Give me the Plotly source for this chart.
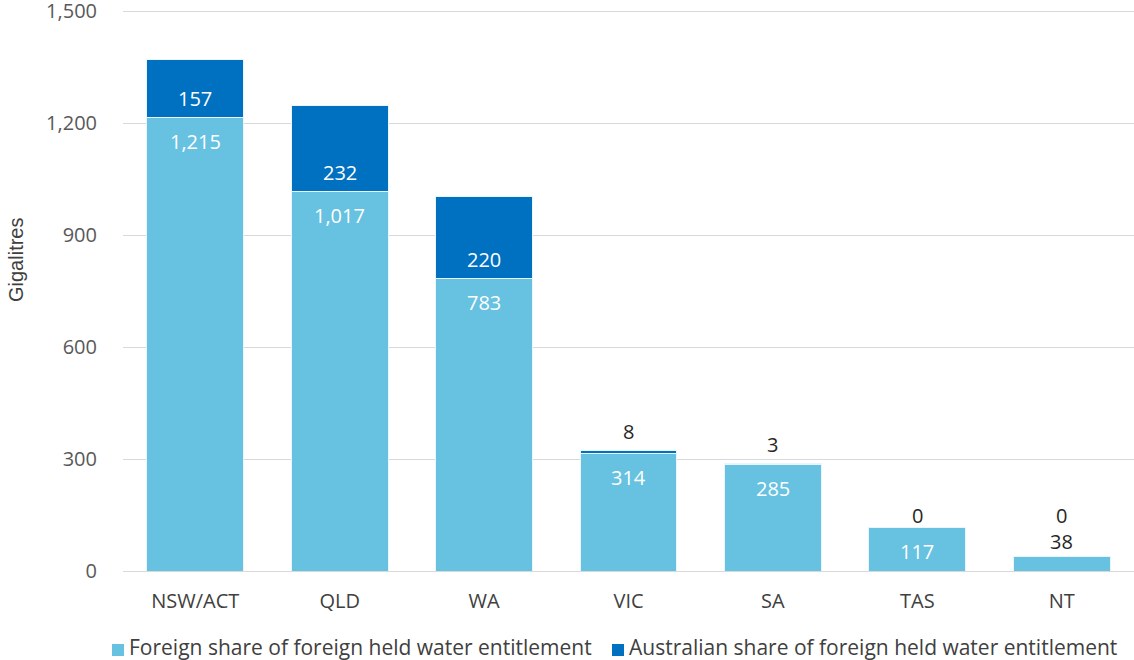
import plotly.graph_objects as go

categories = ["NSW/ACT", "QLD", "WA", "VIC", "SA", "TAS", "NT"]
foreign_share = [1215, 1017, 783, 314, 285, 117, 38]
australian_share = [157, 232, 220, 8, 3, 0, 0]
y_ticks = [0, 300, 600, 900, 1200, 1500]
series_names = ["Foreign share of foreign held water entitlement",
                "Australian share of foreign held water entitlement"]
y_title = "Gigalitres"

LIGHT = "#66C2E0"
DARK = "#0070C0"
FONT = "Open Sans"

W, H = 1134, 660
ML, MR, MT, MB = 123, 0, 10, 89
PW, PH = W - ML - MR, H - MT - MB


def px_x(p):
    return (p - ML) / PW


def px_y(p):
    return (H - MB - p) / PH


fig = go.Figure()
fig.add_trace(go.Bar(
    x=categories, y=foreign_share, name=series_names[0],
    marker=dict(color=LIGHT, line=dict(color="#E8F6FB", width=1)),
    hoverinfo="x+y"))
fig.add_trace(go.Bar(
    x=categories, y=australian_share, name=series_names[1],
    marker=dict(color=DARK, line=dict(color="#E8F6FB", width=1)),
    hoverinfo="x+y"))

annotations = []
for c, f, a in zip(categories, foreign_share, australian_share):
    total = f + a
    if f >= 100:
        annotations.append(dict(x=c, y=f, text=f"{f:,}", showarrow=False, yshift=-24,
                                font=dict(color="white", size=20, family=FONT)))
        above = 0
    else:
        annotations.append(dict(x=c, y=total, text=f"{f:,}", showarrow=False, yshift=15,
                                font=dict(color="#262626", size=20, family=FONT)))
        above = 26
    if a >= 100:
        annotations.append(dict(x=c, y=f, text=f"{a:,}", showarrow=False, yshift=19,
                                font=dict(color="white", size=20, family=FONT)))
    else:
        if above:
            shift = 15 + above
        elif a == 0:
            shift = 12
        else:
            shift = 19
        annotations.append(dict(x=c, y=total, text=f"{a:,}", showarrow=False, yshift=shift,
                                font=dict(color="#262626", size=20, family=FONT)))

# y-axis title
annotations.append(dict(xref="paper", yref="paper", x=px_x(16), y=px_y(260),
                        xanchor="center", yanchor="middle", showarrow=False, textangle=-90,
                        text=y_title, font=dict(family="Liberation Sans", size=20, color="#404040")))

# manual legend (square swatches + labels) placed below the axis
shapes = []
legend_items = [(series_names[0], LIGHT, 112), (series_names[1], DARK, 612)]
for name, col, left in legend_items:
    shapes.append(dict(type="rect", xref="paper", yref="paper",
                       x0=px_x(left), x1=px_x(left + 12), y0=px_y(656), y1=px_y(644),
                       fillcolor=col, line=dict(width=0)))
    annotations.append(dict(xref="paper", yref="paper", x=px_x(left + 15), y=px_y(647),
                            xanchor="left", yanchor="middle", showarrow=False, text=name,
                            font=dict(size=21, color="#404040", family=FONT)))

fig.update_layout(
    barmode="stack",
    bargap=0.33,
    width=W, height=H,
    margin=dict(l=ML, r=MR, t=MT, b=MB, autoexpand=False),
    plot_bgcolor="white", paper_bgcolor="white",
    font=dict(family=FONT, size=19, color="#595959"),
    annotations=annotations,
    shapes=shapes,
    showlegend=False,
    xaxis=dict(showline=False, ticks="outside", ticklen=12, tickcolor="rgba(0,0,0,0)",
               automargin=False,
               tickfont=dict(size=20, color="#404040", family=FONT)),
    yaxis=dict(range=[0, 1504], tickvals=y_ticks,
               tickformat=",", gridcolor="#D9D9D9", gridwidth=1,
               zeroline=True, zerolinecolor="#D9D9D9", zerolinewidth=1,
               ticks="outside", ticklen=21, tickcolor="rgba(0,0,0,0)",
               ticklabeloverflow="allow", automargin=False,
               tickfont=dict(size=20, color="#595959", family=FONT)),
)

fig.write_html("out.html", config={"displayModeBar": False},
               post_script="document.body.style.margin='0';")
